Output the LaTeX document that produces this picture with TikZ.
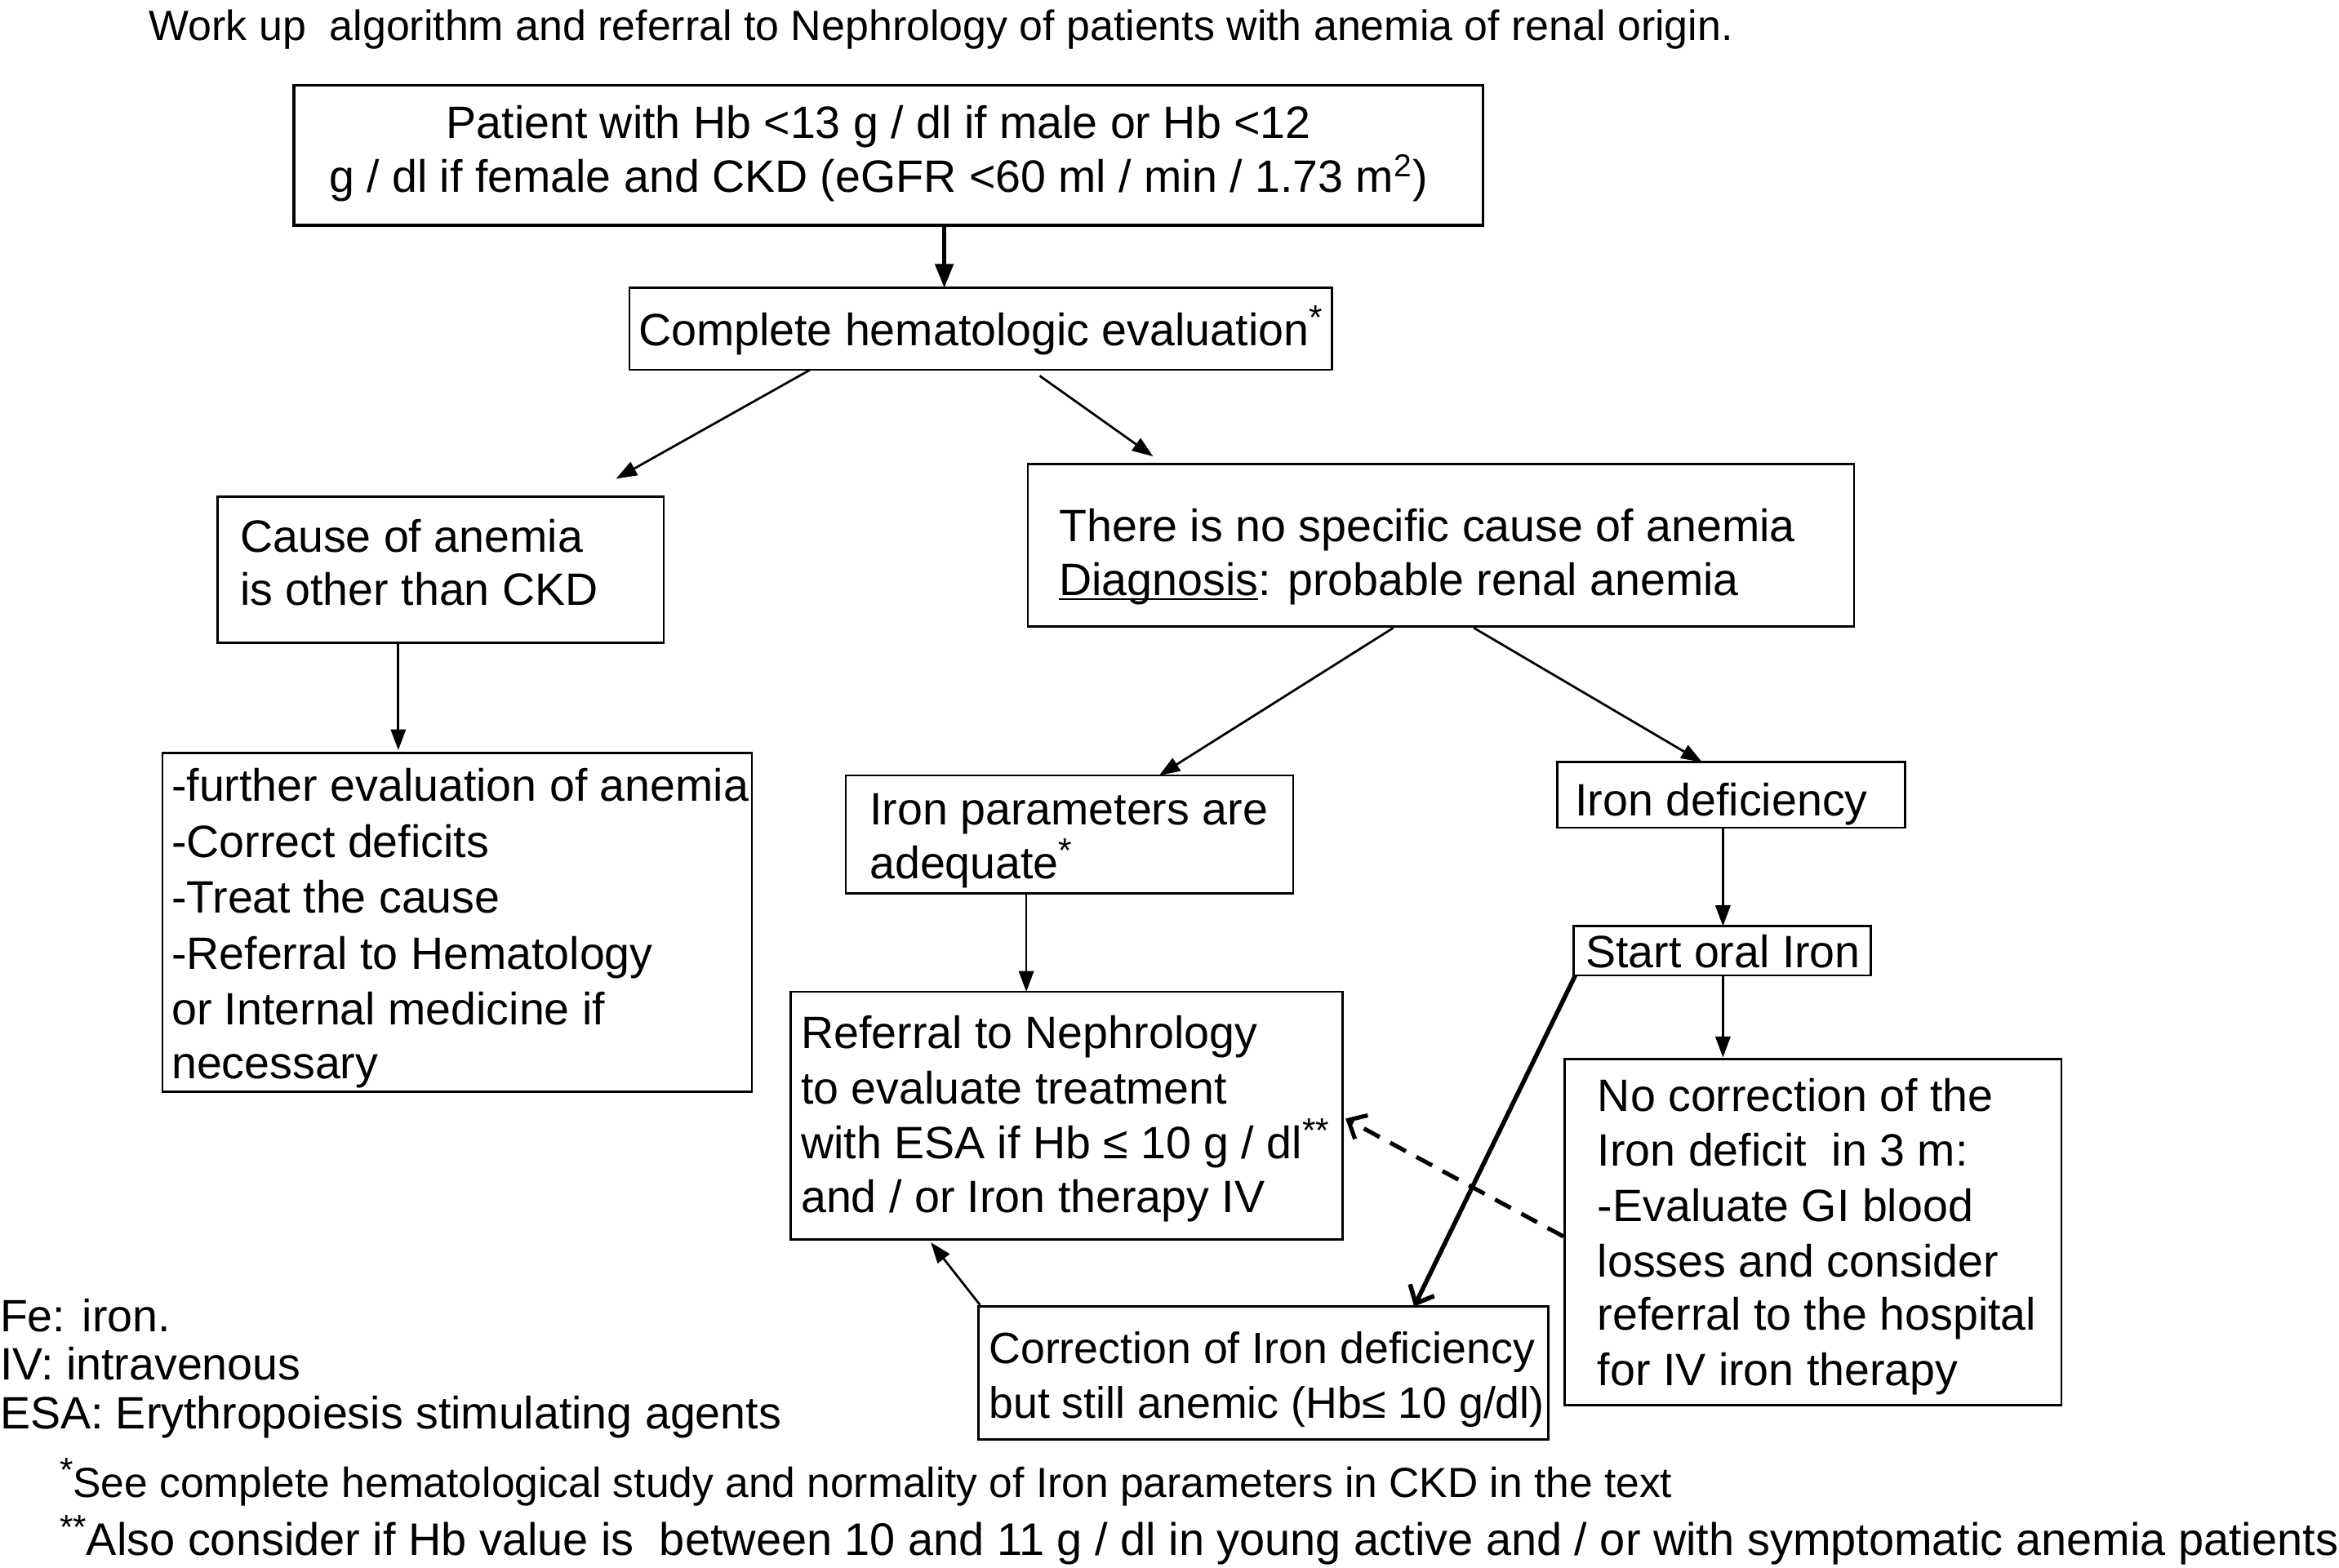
\documentclass[tikz,border=0pt]{standalone}
\usepackage{fontspec}
\setmainfont{Liberation Sans}
\usetikzlibrary{arrows.meta,calc}
\newcommand\supst[1]{\raisebox{0.36em}{\fontsize{11.5}{11.5}\selectfont #1}}
\begin{document}
\begin{tikzpicture}[x=0.5pt,y=-0.5pt,
  box/.style={draw,line width=0.7pt,inner sep=0pt,outer sep=0pt},
  txt/.style={anchor=base west,inner sep=0pt,outer sep=0pt,font=\fontsize{15.2}{18.5}\selectfont},
  stxt/.style={anchor=base west,inner sep=0pt,outer sep=0pt,font=\fontsize{14.7}{18.5}\selectfont},
  ctxt/.style={anchor=base,inner sep=0pt,outer sep=0pt,font=\fontsize{15.2}{18.5}\selectfont},
  ttl/.style={anchor=base west,inner sep=0pt,outer sep=0pt,font=\fontsize{14.2}{16}\selectfont},
  fnta/.style={anchor=base west,inner sep=0pt,outer sep=0pt,font=\fontsize{14.1}{16}\selectfont},
  fntb/.style={anchor=base west,inner sep=0pt,outer sep=0pt,font=\fontsize{15.3}{17}\selectfont},
  arr/.style={line width=0.75pt,-{Triangle[length=7pt,width=5pt]}},
  bigarr/.style={line width=1.4pt,-{Triangle[length=8pt,width=6pt]}},
  thickarr/.style={line width=1.5pt,-{Straight Barb[length=5pt,width=9pt,line width=1.5pt]}},
  dasharr/.style={line width=1.4pt,dash pattern=on 6pt off 4pt,-{Straight Barb[length=5pt,width=9pt,line width=1.4pt]}}
]
\useasboundingbox (0,0) rectangle (1568,1051);

% title
\node[ttl] (title) at (100,27) {Work up~ algorithm and referral to Nephrology of patients with anemia of renal origin.};

% boxes
\node[box,line width=0.9pt,minimum width=398.5pt,minimum height=47pt] (b1) at (595.5,104) {};
\node[box,minimum width=235.5pt,minimum height=27.5pt] (b2) at (657.5,220.5) {};
\node[box,minimum width=149.5pt,minimum height=49pt] (b3) at (295.5,382) {};
\node[box,minimum width=277pt,minimum height=54.5pt] (b4) at (966,365.5) {};
\node[box,minimum width=197.5pt,minimum height=113.5pt] (b5) at (306.5,618.5) {};
\node[box,minimum width=150pt,minimum height=39.5pt] (b6) at (717,559.5) {};
\node[box,minimum width=116.5pt,minimum height=22pt] (b7) at (1160.5,533) {};
\node[box,minimum width=99.5pt,minimum height=16.5pt] (b8) at (1154.5,637.5) {};
\node[box,minimum width=166.5pt,minimum height=116pt] (b9) at (1215.5,826) {};
\node[box,minimum width=185pt,minimum height=83pt] (b10) at (715,748) {};
\node[box,minimum width=191pt,minimum height=44.5pt] (b11) at (847,920.5) {};

% box texts
\node[ctxt] (t1a) at (589,93) {Patient with Hb <13 g / dl if male or Hb <12};
\node[ctxt] (t1b) at (589,129) {g / dl if female and CKD (eGFR <60 ml / min / 1.73 m\textsuperscript{2})};

\node[txt] (t2) at (428,232) {Complete hematologic evaluation\supst{*}};

\node[txt] (t3a) at (161,370) {Cause of anemia};
\node[txt] (t3b) at (161,406) {is other than CKD};

\node[txt] (t4a) at (710,363) {There is no specific cause of anemia};
\node[txt] (t4b) at (710,399) {\underline{\smash{Diagnosis}}: probable renal anemia};

\node[txt] (t5a) at (115,537) {-further evaluation of anemia};
\node[txt] (t5b) at (115,575) {-Correct deficits};
\node[txt] (t5c) at (115,612) {-Treat the cause};
\node[txt] (t5d) at (115,650) {-Referral to Hematology};
\node[txt] (t5e) at (115,687) {or Internal medicine if};
\node[txt] (t5f) at (115,723) {necessary};

\node[txt] (t6a) at (583,553) {Iron parameters are};
\node[txt] (t6b) at (583,589) {adequate\supst{*}};

\node[txt] (t7) at (1056,547) {Iron deficiency};

\node[txt] (t8) at (1063,649) {Start oral Iron};

\node[txt] (t9a) at (1071,745) {No correction of the};
\node[txt] (t9b) at (1071,782) {Iron deficit~ in 3 m:};
\node[txt] (t9c) at (1071,819) {-Evaluate GI blood};
\node[txt] (t9d) at (1071,856) {losses and consider};
\node[txt] (t9e) at (1071,892) {referral to the hospital};
\node[txt] (t9f) at (1071,929) {for IV iron therapy};

\node[txt] (t10a) at (537,703) {Referral to Nephrology};
\node[txt] (t10b) at (537,740) {to evaluate treatment};
\node[txt] (t10c) at (537,777) {with ESA if Hb ≤ 10 g / dl\supst{**}};
\node[txt] (t10d) at (537,813) {and / or Iron therapy IV};

\node[stxt] (t11a) at (663,914) {Correction of Iron deficiency};
\node[stxt] (t11b) at (663,951) {but still anemic (Hb≤ 10 g/dl)};

% legend
\node[txt] (l1) at (0,893) {Fe: iron.};
\node[txt] (l2) at (0,925) {IV: intravenous};
\node[txt] (l3) at (0,958) {ESA: Erythropoiesis stimulating agents};

% footnotes
\node[fnta] (f1) at (40,1004) {\supst{*}See complete hematological study and normality of Iron parameters in CKD in the text};
\node[fntb] (f2) at (40,1043) {\supst{**}Also consider if Hb value is~ between 10 and 11 g / dl in young active and / or with symptomatic anemia patients};

% connectors
\draw[bigarr] ($(b1.south west)+(436,0)$) -- ($(b2.north west)+(211,0)$);
\draw[arr] ($(b2.south west)+(121,0)$) -- ($(b3.north west)+(267,-12)$);
\draw[arr] ($(b2.south west)+(275,4)$) -- ($(b4.north west)+(84,-5)$);
\draw[arr] ($(b3.south west)+(121,1)$) -- ($(b5.north west)+(158,-2)$);
\draw[arr] ($(b4.south west)+(245,1)$) -- ($(b6.north west)+(210,0)$);
\draw[arr] ($(b4.south west)+(299,1)$) -- ($(b7.north west)+(97,0)$);
\draw[arr] ($(b7.south west)+(111,0)$) -- ($(b8.north west)+(100,0)$);
\draw[arr] ($(b8.south west)+(100,0)$) -- ($(b9.north west)+(106,-1)$);
\draw[arr] ($(b6.south west)+(121,0)$) -- ($(b10.north west)+(158,0)$);
\draw[thickarr] ($(b8.south west)+(1,0)$) -- ($(b11.north west)+(292,0)$);
\draw[dasharr] ($(b9.north west)+(-1,119)$) -- ($(b10.north east)+(2,85)$);
\draw[arr] ($(b11.north west)+(1,-1)$) -- ($(b10.south west)+(94,2)$);
\end{tikzpicture}
\end{document}
